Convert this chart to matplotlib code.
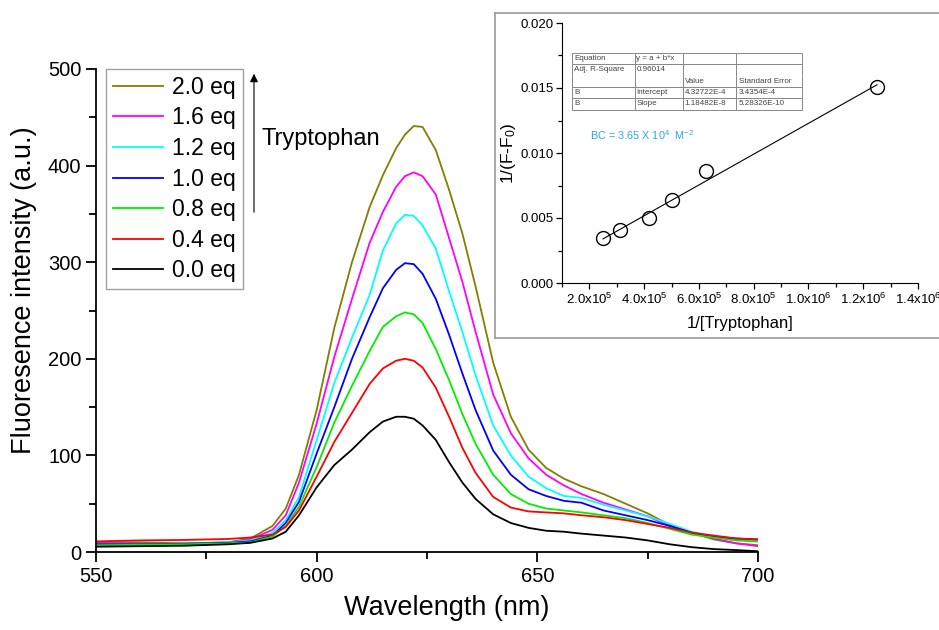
import numpy as np
import matplotlib.pyplot as plt
from matplotlib.ticker import MultipleLocator, FuncFormatter

plt.rcParams['font.family'] = ['Liberation Sans', 'DejaVu Sans']
plt.rcParams['mathtext.fontset'] = 'custom'
plt.rcParams['mathtext.rm'] = 'Liberation Sans'
plt.rcParams['mathtext.it'] = 'Liberation Sans'

# emission spectra
wl = [550, 560, 570, 580, 585, 590, 593, 596, 600, 604, 608, 612, 615, 618, 620,
      622, 624, 627, 630, 633, 636, 640, 644, 648, 652, 656, 660, 665, 670, 675,
      680, 685, 690, 695, 700]

eq_00 = [5.5, 6, 6.5, 8, 9.5, 14, 21, 38, 67, 90, 106, 124, 135, 140, 140,
         138, 131, 116, 93, 72, 55, 39, 30, 25, 22, 21, 19, 17, 15, 12,
         8, 5, 3, 2, 0.8]
eq_04 = [11, 12, 12.5, 13.5, 15, 18, 26, 43, 78, 114, 144, 174, 190, 198, 200,
         198, 191, 170, 140, 108, 82, 57, 46, 42, 41, 40, 38, 36, 33, 29,
         25, 20, 17, 14, 13]
eq_08 = [7, 7.5, 8, 9, 10, 16, 27, 47, 88, 134, 172, 208, 233, 244, 248,
         246, 237, 210, 178, 143, 112, 80, 60, 50, 45, 43, 41, 38, 35, 30,
         24, 18, 15, 12, 11]
eq_10 = [8, 8, 8.5, 9.5, 11, 17, 30, 52, 102, 150, 200, 243, 273, 292, 299,
         298, 288, 262, 225, 185, 147, 105, 80, 65, 58, 53, 51, 43, 38, 33,
         27, 20, 16, 14, 13]
eq_12 = [8, 8, 8.5, 10, 12, 20, 33, 57, 116, 175, 222, 266, 312, 340, 349,
         348, 338, 314, 270, 228, 183, 131, 100, 78, 66, 58, 56, 49, 43, 37,
         29, 21, 16, 13, 11]
eq_16 = [9, 8.5, 8.5, 10, 13, 23, 38, 72, 133, 202, 262, 320, 352, 378, 389,
         393, 389, 370, 325, 280, 228, 163, 123, 97, 80, 69, 60, 51, 44, 37,
         27, 20, 14, 9, 6]
eq_20 = [10, 10, 9, 10, 14, 27, 45, 80, 147, 232, 300, 357, 390, 418, 432,
         441, 440, 416, 375, 330, 275, 196, 140, 106, 87, 76, 68, 60, 50, 40,
         28, 20, 13, 9, 7]

series = [eq_20, eq_16, eq_12, eq_10, eq_08, eq_04, eq_00]
labels = ['2.0 eq', '1.6 eq', '1.2 eq', '1.0 eq', '0.8 eq', '0.4 eq', '0.0 eq']
colors = ['#808000', '#FF00FF', '#00FFFF', '#0000FF', '#00EE00', '#FF0000', '#000000']

# Benesi-Hildebrand inset
inv_trp = [2.5e5, 3.125e5, 4.17e5, 5.0e5, 6.25e5, 1.25e6]
inv_dF = [0.00349, 0.00405, 0.00503, 0.00636, 0.00862, 0.01508]
intercept = 4.32722e-4
slope = 1.18482e-8

table_rows = [
    ['Equation', 'y = a + b*x', '', ''],
    ['Adj. R-Square', '0.96014', '', ''],
    ['', '', 'Value', 'Standard Error'],
    ['B', 'Intercept', '4.32722E-4', '3.4354E-4'],
    ['B', 'Slope', '1.18482E-8', '5.28326E-10'],
]

fig = plt.figure(figsize=(9.39, 6.3), dpi=100)
W, H = 939, 630

def px_rect(x0, y0, x1, y1):
    return [x0 / W, 1 - y1 / H, (x1 - x0) / W, (y1 - y0) / H]

ax = fig.add_axes(px_rect(96, 69, 758, 552))
for lab, c, ys in zip(labels, colors, series):
    ax.plot(wl, ys, color=c, lw=1.3, label=lab)

ax.set_xlim(550, 700)
ax.set_ylim(0, 500)
ax.xaxis.set_major_locator(MultipleLocator(50))
ax.xaxis.set_minor_locator(MultipleLocator(25))
ax.yaxis.set_major_locator(MultipleLocator(100))
ax.yaxis.set_minor_locator(MultipleLocator(50))
ax.tick_params(which='both', direction='out', width=1.3, labelsize=14.5)
ax.tick_params(which='major', length=7)
ax.tick_params(which='minor', length=5)
ax.spines['top'].set_visible(False)
ax.spines['right'].set_visible(False)
ax.spines['left'].set_linewidth(1.3)
ax.spines['bottom'].set_linewidth(1.3)
ax.set_xlabel('Wavelength (nm)', fontsize=19.5)
ax.set_ylabel('Fluoresence intensity (a.u.)', fontsize=19.5)
ax.xaxis.set_label_coords(0.529, -0.09)
ax.yaxis.set_label_coords(-0.089, 0.542)

leg = ax.legend(loc='upper left', bbox_to_anchor=(0.015, 1.0), fontsize=16.5,
                frameon=True, fancybox=False, edgecolor='#888888',
                handlelength=2.2, handletextpad=0.4, labelspacing=0.33,
                borderpad=0.3, borderaxespad=0.0)
leg.get_frame().set_linewidth(1.0)

ax.annotate('', xy=(254 / W, 1 - 71 / H), xytext=(254 / W, 1 - 215 / H),
            xycoords='figure fraction',
            arrowprops=dict(arrowstyle='-|>', color='black', lw=0.8,
                            mutation_scale=12))
fig.text(261 / W, 1 - 145 / H, 'Tryptophan', fontsize=17, va='baseline')

# inset frame
frame = fig.add_axes(px_rect(495, 13, 960, 338))
frame.set_xticks([])
frame.set_yticks([])
for s in frame.spines.values():
    s.set_edgecolor('#999999')
    s.set_linewidth(1.2)

ins = fig.add_axes(px_rect(562, 23, 918, 283))
ins.plot(inv_trp, inv_dF, 'o', mfc='none', mec='black', ms=10, mew=1.0)
xfit = np.array([inv_trp[0], inv_trp[-1]])
ins.plot(xfit, intercept + slope * xfit, color='black', lw=0.8)
ins.set_xlim(1.0e5, 1.4e6)
ins.set_ylim(0, 0.020)
ins.xaxis.set_major_locator(MultipleLocator(2e5))
ins.xaxis.set_minor_locator(MultipleLocator(1e5))
ins.yaxis.set_major_locator(MultipleLocator(0.005))
ins.yaxis.set_minor_locator(MultipleLocator(0.0025))


def sci_fmt(v, pos):
    if v <= 0:
        return ''
    e = int(np.floor(np.log10(v) + 1e-9))
    return r'%.1fx10$^{%d}$' % (v / 10 ** e, e)


ins.xaxis.set_major_formatter(FuncFormatter(sci_fmt))
ins.yaxis.set_major_formatter(FuncFormatter(lambda v, p: '%.3f' % v))
ins.tick_params(which='both', direction='out', width=0.9, labelsize=9.5, pad=2)
ins.tick_params(which='major', length=4)
ins.tick_params(which='minor', length=3)
ins.spines['top'].set_visible(False)
ins.spines['right'].set_visible(False)
ins.set_xlabel('1/[Tryptophan]', fontsize=12, labelpad=7)
ins.set_ylabel('1/(F-F$_0$)', fontsize=12.5, labelpad=2)

col_w = np.array([62.6, 48, 53.7, 65.7]) / 356.0
tab = ins.table(cellText=table_rows, colWidths=list(col_w), cellLoc='left',
                bbox=[0.028, 0.667, col_w.sum(), 0.218])
tab.auto_set_font_size(False)
tab.set_fontsize(5.8)
for (r, c), cell in tab.get_celld().items():
    cell.set_edgecolor('#888888')
    cell.set_linewidth(0.7)
    cell.PAD = 0.04
    cell.get_text().set_color('#444444')
    if r == 1:
        cell.visible_edges = 'LRT'
    elif r == 2:
        cell.visible_edges = 'LRB'
    if (c >= 2 and r >= 3) or (r == 1 and c == 1):
        cell._loc = 'right'

ins.text(0.08, 0.55, r'BC = 3.65 X 10$^{4}$  M$^{-2}$', transform=ins.transAxes,
         color='#2AA7E8', fontsize=7.8)

fig.savefig('out.png', dpi=100)
